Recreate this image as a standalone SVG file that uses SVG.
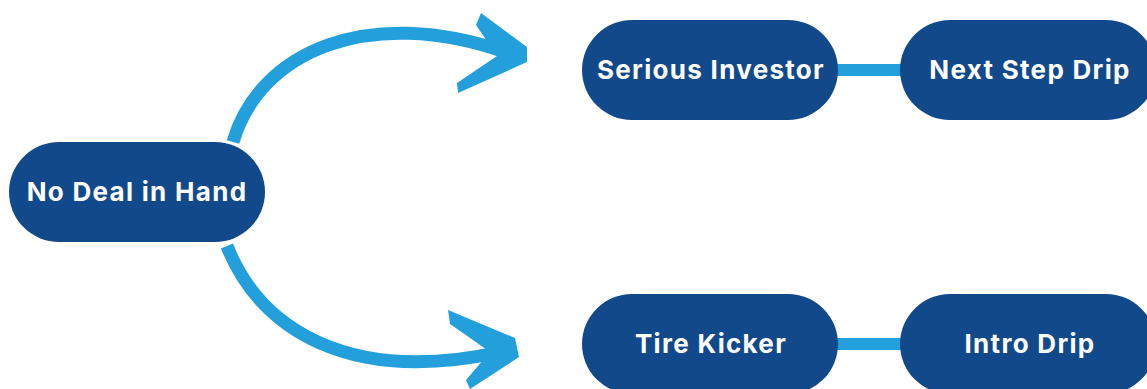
<svg xmlns="http://www.w3.org/2000/svg" width="1147" height="389" viewBox="0 0 1147 389">
  <style>
    .node { fill: #12498a; }
    .label { fill: #ffffff; font-family: Inter, "Open Sans", "Liberation Sans", sans-serif; font-weight: 700; font-size: 26px; letter-spacing: 1.3px; text-anchor: middle; }
    .shaft { fill: none; stroke: #239fdb; stroke-width: 13; stroke-linecap: butt; }
    .head { fill: #239fdb; }
    .link { stroke: #239fdb; stroke-width: 12; }
  </style>
  <rect width="1147" height="389" fill="#ffffff"/>
  <g id="connectors">
    <path class="shaft" d="M 233 142 C 260 50, 370 5, 505 52"/>
    <polygon class="head" points="481,13 527,47 527,62 458,93 457,83 497,56 476,25"/>
    <path class="shaft" d="M 227 246 C 260 330, 350 385, 500 352"/>
    <polygon class="head" points="448,310 515,338 519,357 470,389 466,380 490,352 450,324"/>
    <line class="link" x1="835" y1="70" x2="905" y2="70"/>
    <line class="link" x1="835" y1="344" x2="905" y2="344"/>
  </g>
  <g id="node-no-deal">
    <rect class="node" x="9" y="142" width="256" height="100" rx="50"/>
    <text class="label" x="137" y="201">No Deal in Hand</text>
  </g>
  <g id="node-serious-investor">
    <rect class="node" x="582" y="20" width="256" height="100" rx="50"/>
    <text class="label" x="711" y="79">Serious Investor</text>
  </g>
  <g id="node-next-step-drip">
    <rect class="node" x="900" y="20" width="256" height="100" rx="50"/>
    <text class="label" x="1030" y="79">Next Step Drip</text>
  </g>
  <g id="node-tire-kicker">
    <rect class="node" x="582" y="294" width="256" height="100" rx="50"/>
    <text class="label" x="711" y="353">Tire Kicker</text>
  </g>
  <g id="node-intro-drip">
    <rect class="node" x="900" y="294" width="256" height="100" rx="50"/>
    <text class="label" x="1030" y="353">Intro Drip</text>
  </g>
</svg>
